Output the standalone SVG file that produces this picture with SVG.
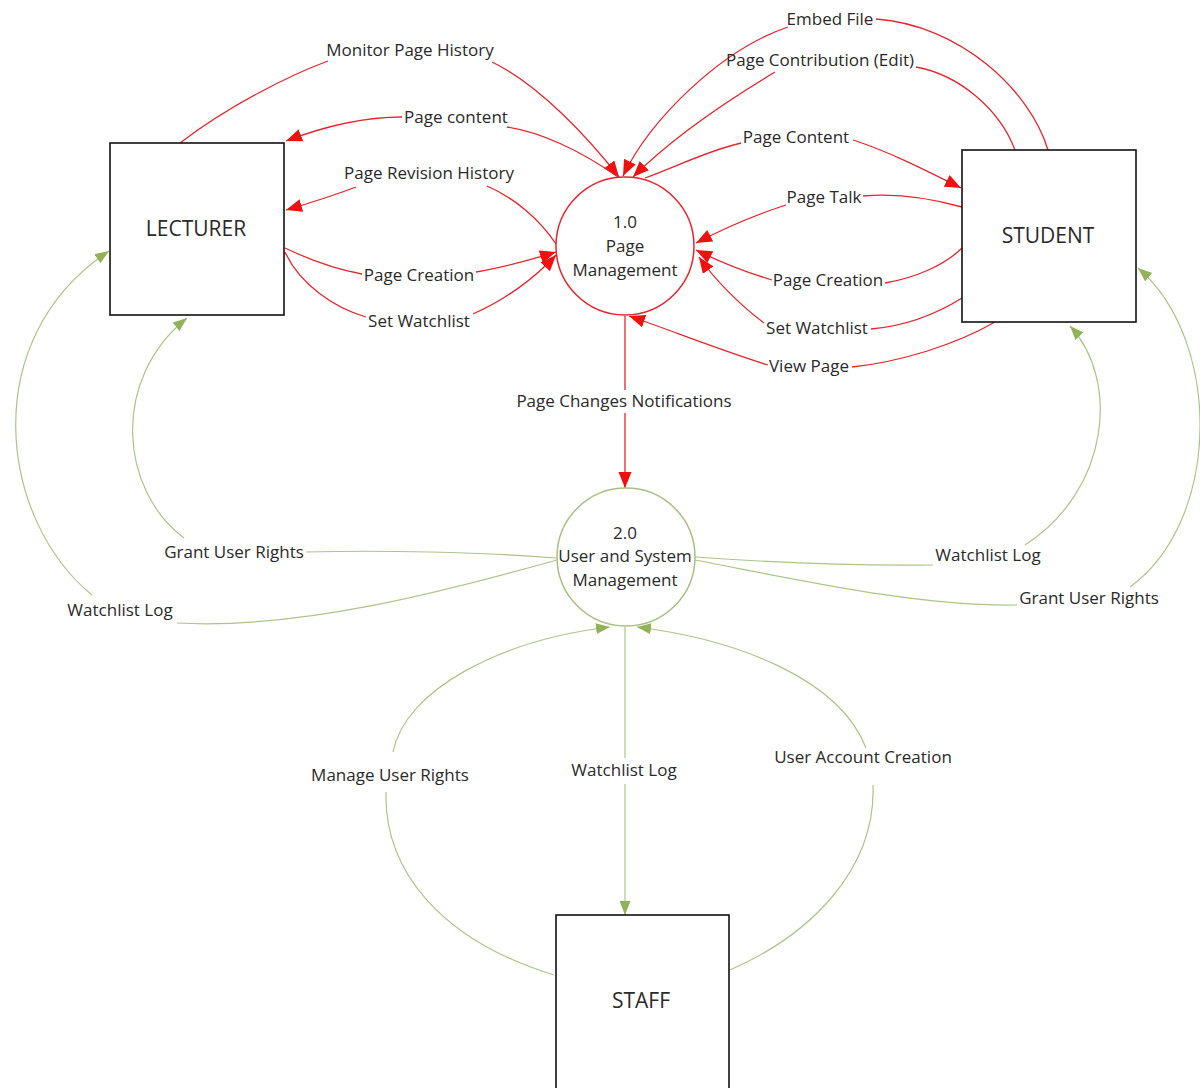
<svg xmlns="http://www.w3.org/2000/svg" width="1200" height="1088" viewBox="0 0 1200 1088">
<defs>
<marker id="ar" markerUnits="userSpaceOnUse" markerWidth="17" markerHeight="14" refX="16" refY="6.5" orient="auto"><path d="M0,0 L16,6.5 L0,13 z" fill="#f01010"/></marker>
<marker id="ag" markerUnits="userSpaceOnUse" markerWidth="15" markerHeight="12" refX="14" refY="5.5" orient="auto"><path d="M0,0 L14,5.5 L0,11 z" fill="#92b25a"/></marker>
<style>
.box{fill:#fff;stroke:#111;stroke-width:1.6}
.c1{fill:#fff;stroke:#e3262e;stroke-width:1.5}
.c2{fill:#fff;stroke:#a9bf86;stroke-width:1.5}
.r{fill:none;stroke:#e3262e;stroke-width:1.3;marker-end:url(#ar)}
.g{fill:none;stroke:#adc38a;stroke-width:1.2;marker-end:url(#ag)}
text{font-family:"Open Sans","Liberation Sans",sans-serif;fill:#2a2a2a;text-anchor:middle}
.lb{font-size:17px}
.nd{font-size:21px}
.pr{font-size:17px}
</style>
</defs>
<rect width="1200" height="1088" fill="#fff"/>
<g id="connectors">
<path class="r" d="M180,143 C230,105 290,75 328,61 M492,62 C540,85 590,140 619,177"/>
<path class="r" d="M618,177 C580,150 540,132 507,127 M402,117 C360,117 320,128 286,141"/>
<path class="r" d="M556,244 C540,220 515,198 487,186 M356,187 C335,195 310,203 286,210"/>
<path class="r" d="M285,248 C310,260 340,270 362,274 M476,272 C500,268 530,260 556,252"/>
<path class="r" d="M285,252 C300,285 335,308 366,317 M473,314 C505,300 535,278 556,255"/>
<path class="r" d="M1048,150 C1030,90 960,25 876,19 M788,27 C720,50 650,120 623,176"/>
<path class="r" d="M1015,150 C1000,110 960,75 916,67 M775,72 C720,105 670,140 633,177"/>
<path class="r" d="M645,178 C680,165 710,150 741,143 M853,140 C890,152 925,170 961,188"/>
<path class="r" d="M962,207 C930,198 895,193 863,196 M786,205 C755,215 725,228 696,243"/>
<path class="r" d="M962,248 C945,265 915,278 885,283 M772,280 C745,272 720,262 696,250"/>
<path class="r" d="M962,298 C935,315 905,326 871,329 M764,323 C740,305 715,280 699,257"/>
<path class="r" d="M995,322 C955,345 900,362 852,367 M768,365 C720,350 670,330 629,316"/>
<path class="r" d="M625,316 L625,390 M625,413 L625,488"/>
<path class="g" d="M556,558 C480,552 380,550 306,552 M184,538 C120,490 110,380 187,318"/>
<path class="g" d="M557,560 C450,590 300,630 177,623 M92,595 C0,520 -25,340 109,251"/>
<path class="g" d="M695,557 C780,563 860,566 933,565 M1025,545 C1110,490 1120,380 1070,326"/>
<path class="g" d="M695,560 C800,580 920,607 1017,605 M1130,587 C1222,520 1222,340 1138,268"/>
<path class="g" d="M554,975 C440,940 384,870 386,792 M393,752 C405,690 500,640 610,627"/>
<path class="g" d="M625,627 L625,758 M625,784 L625,915"/>
<path class="g" d="M730,970 C810,935 876,870 873,785 M866,748 C840,680 740,640 637,627"/>
</g>
<g id="labels">
<text class="lb" x="410" y="56">Monitor Page History</text>
<text class="lb" x="456" y="123">Page content</text>
<text class="lb" x="429" y="179">Page Revision History</text>
<text class="lb" x="419" y="281">Page Creation</text>
<text class="lb" x="419" y="327">Set Watchlist</text>
<text class="lb" x="830" y="25">Embed File</text>
<text class="lb" x="820" y="66">Page Contribution (Edit)</text>
<text class="lb" x="796" y="143">Page Content</text>
<text class="lb" x="824" y="203">Page Talk</text>
<text class="lb" x="828" y="286">Page Creation</text>
<text class="lb" x="817" y="334">Set Watchlist</text>
<text class="lb" x="809" y="372">View Page</text>
<text class="lb" x="624" y="407">Page Changes Notifications</text>
<text class="lb" x="234" y="558">Grant User Rights</text>
<text class="lb" x="120" y="616">Watchlist Log</text>
<text class="lb" x="988" y="561">Watchlist Log</text>
<text class="lb" x="1089" y="604">Grant User Rights</text>
<text class="lb" x="390" y="781">Manage User Rights</text>
<text class="lb" x="624" y="776">Watchlist Log</text>
<text class="lb" x="863" y="763">User Account Creation</text>
</g>
<g id="lecturer"><rect class="box" x="110" y="143" width="174" height="172"/><text class="nd" x="196" y="236">LECTURER</text></g>
<g id="student"><rect class="box" x="962" y="150" width="174" height="172"/><text class="nd" x="1048" y="243">STUDENT</text></g>
<g id="staff"><rect class="box" x="556" y="915" width="173" height="180"/><text class="nd" x="641" y="1008">STAFF</text></g>
<g id="p1"><circle class="c1" cx="625" cy="246" r="69"/><text class="pr" x="625" y="228">1.0</text><text class="pr" x="625" y="252">Page</text><text class="pr" x="625" y="276">Management</text></g>
<g id="p2"><circle class="c2" cx="626" cy="557" r="69"/><text class="pr" x="625" y="539">2.0</text><text class="pr" x="625" y="562">User and System</text><text class="pr" x="625" y="586">Management</text></g>
</svg>
